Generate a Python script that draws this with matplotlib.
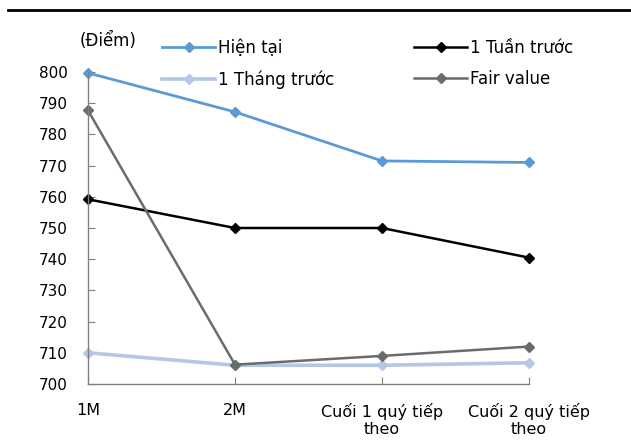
import matplotlib
matplotlib.use("Agg")
from matplotlib import pyplot as plt
from matplotlib.lines import Line2D

# dữ liệu
categories = ["1M", "2M", "Cuối 1 quý tiếp\ntheo", "Cuối 2 quý tiếp\ntheo"]
hien_tai = [799.7, 787.2, 771.5, 771.0]
tuan_truoc = [759.2, 750.0, 750.0, 740.5]
thang_truoc = [710.0, 706.0, 706.0, 706.8]
fair_value = [787.7, 706.2, 709.0, 712.0]

series = [
    ("Hiện tại", hien_tai, "#5b9bd5", 2.0),
    ("1 Tuần trước", tuan_truoc, "#000000", 1.8),
    ("1 Tháng trước", thang_truoc, "#b4c7e7", 2.6),
    ("Fair value", fair_value, "#6b6b6b", 1.8),
]

plt.rcParams['font.family'] = ['DejaVu Sans']

fig = plt.figure(figsize=(6.31, 4.46), dpi=100)
ax = fig.add_axes([88 / 631, 1 - 384 / 446, (529 - 88) / 631, (384 - 72) / 446])

x = list(range(len(categories)))
handles = []
for name, vals, col, lw in series:
    ln, = ax.plot(x, vals, color=col, lw=lw, marker="D", markersize=5.5,
                  clip_on=False, label=name)
    handles.append(ln)

ax.set_xlim(0, 3)
ax.set_ylim(700, 800)
ax.set_yticks(range(700, 801, 10))
ax.set_xticks(x)
ax.set_xticklabels(categories, fontsize=11.5)
for lb in ax.get_yticklabels():
    lb.set_fontsize(11)
for sp in ["top", "right"]:
    ax.spines[sp].set_visible(False)
for sp in ["left", "bottom"]:
    ax.spines[sp].set_color("#808080")
    ax.spines[sp].set_linewidth(1.0)
ax.tick_params(direction="in", length=5, color="#808080")
ax.tick_params(axis="y", pad=14.4)
ax.tick_params(axis="x", pad=13.5)

# chú thích: 2 cột, mỗi cột một legend
cols = [([handles[0], handles[2]], 162), ([handles[1], handles[3]], 414)]
for hs, x0 in cols:
    fig.legend(hs, [h.get_label() for h in hs], ncol=1, frameon=False,
               loc="upper left", bbox_to_anchor=(x0 / 631, 1 - 39 / 446),
               fontsize=12, handlelength=3.2, labelspacing=0.8,
               handletextpad=0.15, borderaxespad=0, borderpad=0)

fig.text(80 / 631, 1 - 41 / 446, "(Điểm)", ha="left", va="center", fontsize=12)

# đường kẻ ngang trên cùng
fig.add_artist(Line2D([8 / 631, 1], [1 - 10 / 446, 1 - 10 / 446], color="black", lw=2))

fig.savefig("out.png", dpi=100)
